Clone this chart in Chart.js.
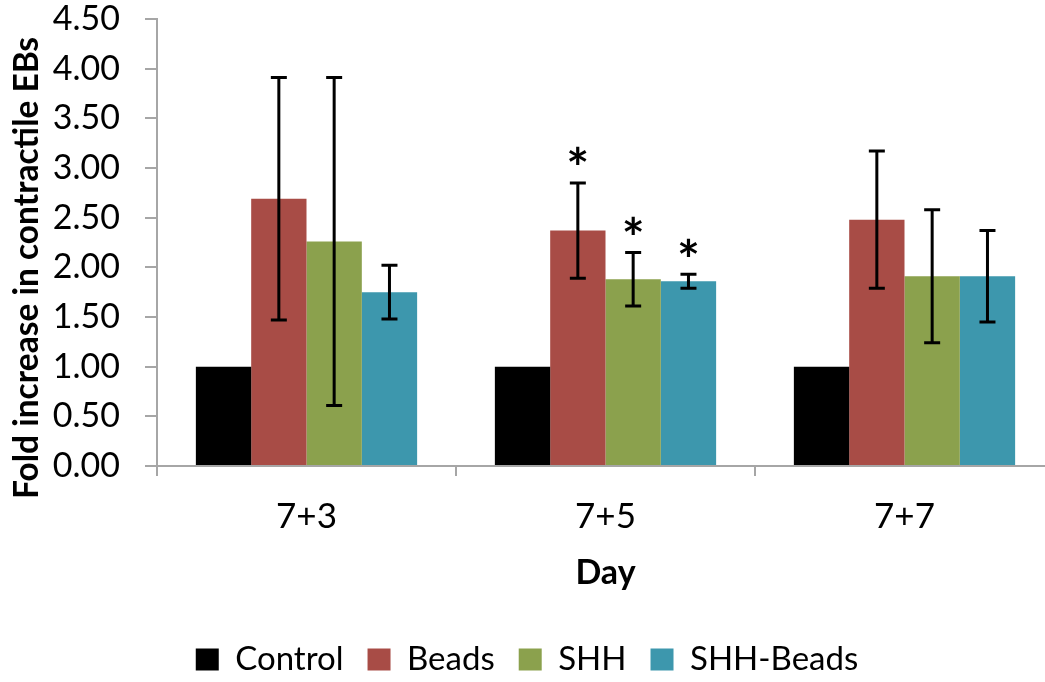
<!DOCTYPE html>
<html>
<head>
<meta charset="utf-8">
<script src="https://cdn.jsdelivr.net/npm/chart.js@4.4.1/dist/chart.umd.min.js"></script>
<style>
  html, body { margin: 0; padding: 0; overflow: hidden; background: #fff; }
  #wrap { position: relative; width: 1059px; height: 686px; }
</style>
</head>
<body>
<div id="wrap"><canvas id="c" width="1059" height="686"></canvas></div>
<script>
// Fold increase in contractile EBs by day and treatment (mean ± error)
const categories = ['7+3', '7+5', '7+7'];
const seriesNames = ['Control', 'Beads', 'SHH', 'SHH-Beads'];

const controlValues  = [1.00, 1.00, 1.00];
const beadsValues    = [2.69, 2.37, 2.48];
const shhValues      = [2.26, 1.88, 1.91];
const shhBeadsValues = [1.75, 1.86, 1.91];

const controlErrors  = [0, 0, 0];
const beadsErrors    = [1.22, 0.48, 0.69];
const shhErrors      = [1.65, 0.27, 0.67];
const shhBeadsErrors = [0.27, 0.07, 0.46];

// significance marks (*) per category
const controlSignificant  = [false, false, false];
const beadsSignificant    = [false, true, false];
const shhSignificant      = [false, true, false];
const shhBeadsSignificant = [false, true, false];

const yTickValues = [0, 0.5, 1, 1.5, 2, 2.5, 3, 3.5, 4, 4.5];

const FONT = 'Lato, "Open Sans", sans-serif';
Chart.defaults.font.family = FONT;
Chart.defaults.color = '#000';

const AXIS_GRAY = '#a6a6a6';
const PLOT_BOTTOM = 466;
const LEGEND_FONT = 33, LEGEND_PAD = 24;

const errorBarsPlugin = {
  id: 'errorBars',
  afterDatasetsDraw(chart) {
    const ctx = chart.ctx;
    const y = chart.scales.y;
    ctx.save();
    chart.data.datasets.forEach((ds, di) => {
      const meta = chart.getDatasetMeta(di);
      if (meta.hidden) return;
      meta.data.forEach((bar, i) => {
        const v = ds.data[i];
        const e = ds.errors ? ds.errors[i] : 0;
        const x = bar.x;
        let topPx = y.getPixelForValue(v);
        if (e > 0) {
          const hi = y.getPixelForValue(v + e);
          const lo = y.getPixelForValue(v - e);
          ctx.strokeStyle = '#000';
          ctx.lineWidth = 3;
          ctx.beginPath();
          ctx.moveTo(x, hi); ctx.lineTo(x, lo);
          ctx.moveTo(x - 8, hi); ctx.lineTo(x + 8, hi);
          ctx.moveTo(x - 8, lo); ctx.lineTo(x + 8, lo);
          ctx.stroke();
          topPx = hi;
        }
        if (ds.significant && ds.significant[i]) {
          ctx.fillStyle = '#000';
          ctx.font = 'bold 54px ' + FONT;
          ctx.textAlign = 'center';
          ctx.textBaseline = 'alphabetic';
          const m = ctx.measureText('*');
          const cy = topPx - 27;
          ctx.fillText('*', x, cy + (m.actualBoundingBoxAscent - m.actualBoundingBoxDescent) / 2);
        }
      });
    });
    ctx.restore();
  }
};

const yTitlePlugin = {
  id: 'yTitle',
  afterDraw(chart) {
    const ctx = chart.ctx;
    ctx.save();
    ctx.translate(27, 268);
    ctx.rotate(-Math.PI / 2);
    ctx.font = 'bold 33.5px ' + FONT;
    ctx.fillStyle = '#000';
    ctx.textAlign = 'center';
    ctx.textBaseline = 'middle';
    ctx.fillText('Fold increase in contractile EBs', 0, 0);
    ctx.restore();
  }
};

new Chart(document.getElementById('c'), {
  type: 'bar',
  data: {
    labels: categories,
    datasets: [
      { label: seriesNames[0], data: controlValues,  errors: controlErrors,  significant: controlSignificant,  backgroundColor: '#000000' },
      { label: seriesNames[1], data: beadsValues,    errors: beadsErrors,    significant: beadsSignificant,    backgroundColor: '#a84c46' },
      { label: seriesNames[2], data: shhValues,      errors: shhErrors,      significant: shhSignificant,      backgroundColor: '#8ba14d' },
      { label: seriesNames[3], data: shhBeadsValues, errors: shhBeadsErrors, significant: shhBeadsSignificant, backgroundColor: '#3d97ad' }
    ]
  },
  options: {
    responsive: false,
    animation: false,
    devicePixelRatio: 1,
    layout: { padding: { top: 19, right: 5, left: 0, bottom: 0 } },
    datasets: { bar: { categoryPercentage: 0.74, barPercentage: 1.0, borderWidth: 0 } },
    plugins: {
      legend: {
        position: 'bottom',
        labels: {
          boxWidth: 23, boxHeight: 22, padding: LEGEND_PAD,
          font: { size: LEGEND_FONT }, color: '#000'
        }
      },
      tooltip: { enabled: false }
    },
    scales: {
      x: {
        grid: { display: true, drawOnChartArea: false, drawTicks: true, tickLength: 10, color: AXIS_GRAY, lineWidth: 2, offset: true },
        border: { display: true, color: AXIS_GRAY, width: 2 },
        ticks: { font: { size: 35 }, color: '#000', padding: 20 },
        title: { display: true, text: 'Day', font: { size: 34, weight: 'bold' }, color: '#000', padding: { top: 0, bottom: 26 } },
        afterFit(scale) {
          scale.height = 686 - (LEGEND_FONT + LEGEND_PAD + 10) - PLOT_BOTTOM;
          scale.paddingLeft = 0; scale.paddingRight = 0;
        }
      },
      y: {
        min: 0, max: 4.5,
        afterBuildTicks(scale) { scale.ticks = yTickValues.map(v => ({ value: v })); },
        grid: { display: true, drawOnChartArea: false, drawTicks: true, tickLength: 12, color: AXIS_GRAY, lineWidth: 2 },
        border: { display: true, color: AXIS_GRAY, width: 2 },
        ticks: { font: { size: 34 }, color: '#000', padding: 25, callback: v => Number(v).toFixed(2) },
        afterFit(scale) {
          scale.width = 157;
          scale.paddingTop = 0; scale.paddingBottom = 0;
        }
      }
    }
  },
  plugins: [errorBarsPlugin, yTitlePlugin]
});
</script>
</body>
</html>
